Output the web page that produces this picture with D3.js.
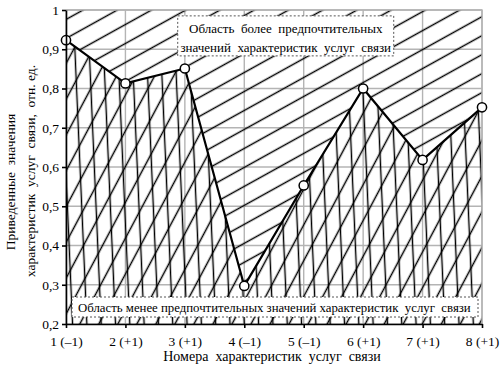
<!DOCTYPE html>
<html>
<head>
<meta charset="utf-8">
<script src="https://cdn.jsdelivr.net/npm/d3@7"></script>
<style>
  body { margin: 0; background: #fff; }
  text { font-family: "Liberation Serif", "Times New Roman", serif; fill: #000; white-space: pre; }
</style>
</head>
<body>
<div class="chart"></div>
<script>
// Data
var xValues = [1, 2, 3, 4, 5, 6, 7, 8];
var xTickLabels = ["1 (–1)", "2 (+1)", "3 (+1)", "4 (–1)", "5 (–1)", "6 (+1)", "7 (+1)", "8 (+1)"];
var yValues = [0.923, 0.813, 0.851, 0.297, 0.553, 0.8, 0.618, 0.752];
var yTicks = [0.2, 0.3, 0.4, 0.5, 0.6, 0.7, 0.8, 0.9, 1];
var yTickLabels = ["0,2", "0,3", "0,4", "0,5", "0,6", "0,7", "0,8", "0,9", "1"];
var upperNote = ["Область  более  предпочтительных", "значений  характеристик  услуг  связи"];
var lowerNote = "Область менее предпочтительных значений характеристик  услуг  связи";
var yTitle = ["Приведенные  значения", "характеристик  услуг  связи,  отн. ед."];
var xTitle = "Номера  характеристик  услуг  связи";

var svgWidth = 501;
var svgHeight = 368;

var margin = { top: 10, right: 19, bottom: 44, left: 66 };
var width = svgWidth - margin.left - margin.right;
var height = svgHeight - margin.top - margin.bottom;

var svg = d3.select(".chart")
  .append("svg")
  .attr("width", svgWidth)
  .attr("height", svgHeight);

var defs = svg.append("defs");

// hatch patterns
function hatch(id, angle, gap) {
  var p = defs.append("pattern")
    .attr("id", id)
    .attr("patternUnits", "userSpaceOnUse")
    .attr("width", 40)
    .attr("height", gap)
    .attr("patternTransform", `rotate(${angle})`);
  p.append("line")
    .attr("x1", 0).attr("x2", 40)
    .attr("y1", gap / 2).attr("y2", gap / 2)
    .attr("stroke", "#000")
    .attr("stroke-width", 1.3);
}
hatch("upHatch", -29, 16.6);
hatch("lowA", -62, 16.8);
hatch("lowB", 87.5, 14.3);

var chartGroup = svg.append("g")
  .attr("transform", `translate(${margin.left}, ${margin.top})`);

var x = d3.scaleLinear().domain([1, 8]).range([0, width]);
var y = d3.scaleLinear().domain([0.2, 1]).range([height, 0]);

// grid
chartGroup.append("g")
  .selectAll("line.v")
  .data(xValues)
  .enter()
  .append("line")
  .attr("x1", d => x(d)).attr("x2", d => x(d))
  .attr("y1", 0).attr("y2", height)
  .attr("stroke", "#b4b4b4")
  .attr("stroke-width", 1.4);

chartGroup.append("g")
  .selectAll("line.h")
  .data(yTicks)
  .enter()
  .append("line")
  .attr("x1", 0).attr("x2", width)
  .attr("y1", d => y(d)).attr("y2", d => y(d))
  .attr("stroke", "#b4b4b4")
  .attr("stroke-width", 1.4);

var pts = xValues.map((v, i) => [x(v), y(yValues[i])]);

// areas above and below the line
var upperPoly = pts.concat([[x(8), y(1)], [x(1), y(1)]]);
var lowerPoly = pts.concat([[x(8), y(0.2)], [x(1), y(0.2)]]);

chartGroup.append("polygon")
  .attr("points", upperPoly.map(p => p.join(",")).join(" "))
  .attr("fill", "url(#upHatch)");

chartGroup.append("polygon")
  .attr("points", lowerPoly.map(p => p.join(",")).join(" "))
  .attr("fill", "url(#lowA)");

chartGroup.append("polygon")
  .attr("points", lowerPoly.map(p => p.join(",")).join(" "))
  .attr("fill", "url(#lowB)");

// note boxes
var upBox = chartGroup.append("g").attr("transform", `translate(${x(2.88)}, ${y(0.985)})`);
upBox.append("rect")
  .attr("width", 216).attr("height", 40)
  .attr("fill", "#fff")
  .attr("stroke", "#555")
  .attr("stroke-dasharray", "2,2");
upBox.selectAll("text")
  .data(upperNote)
  .enter()
  .append("text")
  .attr("x", 108)
  .attr("y", (d, i) => 17 + i * 19)
  .attr("text-anchor", "middle")
  .style("font-size", "13px")
  .text(d => d);

var lowBox = chartGroup.append("g").attr("transform", `translate(6, ${y(0.2) - 27})`);
lowBox.append("rect")
  .attr("width", 406).attr("height", 20)
  .attr("fill", "#fff")
  .attr("stroke", "#555")
  .attr("stroke-dasharray", "2,2");
lowBox.append("text")
  .attr("x", 6)
  .attr("y", 15)
  .style("font-size", "12.8px")
  .text(lowerNote);

// plot frame (top and right)
chartGroup.append("path")
  .attr("d", `M0,0H${width}V${height}`)
  .attr("fill", "none")
  .attr("stroke", "#b4b4b4")
  .attr("stroke-width", 1.4);

// the line and points
chartGroup.append("path")
  .attr("d", d3.line()(pts))
  .attr("fill", "none")
  .attr("stroke", "#000")
  .attr("stroke-width", 2.2);

chartGroup.selectAll("circle")
  .data(pts)
  .enter()
  .append("circle")
  .attr("cx", d => d[0])
  .attr("cy", d => d[1])
  .attr("r", 4.6)
  .attr("fill", "#fff")
  .attr("stroke", "#000")
  .attr("stroke-width", 1.5);

// axes
var bottomAxis = d3.axisBottom(x)
  .tickValues(xValues)
  .tickFormat((d, i) => xTickLabels[i])
  .tickSize(4)
  .tickSizeOuter(0)
  .tickPadding(8);

var leftAxis = d3.axisLeft(y)
  .tickValues(yTicks)
  .tickFormat((d, i) => yTickLabels[i])
  .tickSize(4)
  .tickSizeOuter(0)
  .tickPadding(3);

var xAxisG = chartGroup.append("g")
  .attr("transform", `translate(0, ${height})`)
  .call(bottomAxis);

var yAxisG = chartGroup.append("g")
  .call(leftAxis);

[xAxisG, yAxisG].forEach(function(g) {
  g.selectAll("path, line").attr("stroke", "#000").attr("stroke-width", 1.6);
  g.selectAll("text")
    .style("font-family", "Liberation Serif, serif")
    .style("font-size", "13.5px")
    .attr("fill", "#000");
});

// axis titles
svg.append("text")
  .attr("transform", "translate(15, 182) rotate(-90)")
  .attr("text-anchor", "middle")
  .style("font-size", "13.5px")
  .text(yTitle[0]);

svg.append("text")
  .attr("transform", "translate(35, 171) rotate(-90)")
  .attr("text-anchor", "middle")
  .style("font-size", "13.5px")
  .text(yTitle[1]);

svg.append("text")
  .attr("x", 272)
  .attr("y", 361)
  .attr("text-anchor", "middle")
  .style("font-size", "14px")
  .text(xTitle);
</script>
</body>
</html>
